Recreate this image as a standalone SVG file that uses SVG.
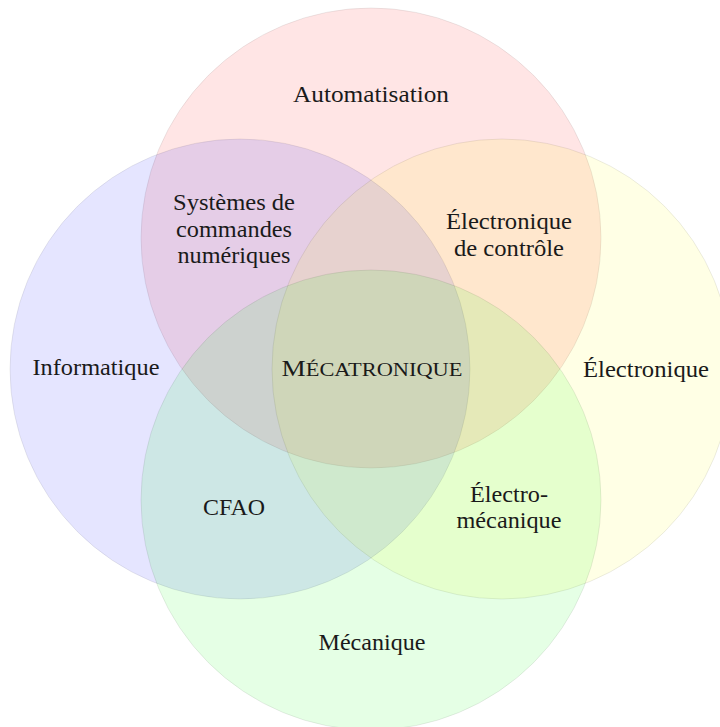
<svg xmlns="http://www.w3.org/2000/svg" width="720" height="727" viewBox="0 0 720 727">
<style>
.c{fill-opacity:0.1;stroke:#000;stroke-opacity:0.08;stroke-width:1}
text{font-family:"Liberation Serif","DejaVu Serif",serif;font-size:22.5px;fill:#1a1a1a;text-anchor:middle}
.sc{font-size:18.5px}
</style>
<rect width="720" height="727" fill="#fff"/>
<g id="automatisation-circle"><circle class="c" cx="371" cy="238" r="230" fill="#ff0000"/></g>
<g id="informatique-circle"><circle class="c" cx="240" cy="369" r="230" fill="#0000ff"/></g>
<g id="electronique-circle"><circle class="c" cx="502" cy="369" r="230" fill="#ffff00"/></g>
<g id="mecanique-circle"><circle class="c" cx="371" cy="500" r="230" fill="#00ff00"/></g>
<g id="labels">
<text x="371" y="102" textLength="156" lengthAdjust="spacingAndGlyphs">Automatisation</text>
<text x="234" y="210" textLength="122" lengthAdjust="spacingAndGlyphs">Systèmes de</text>
<text x="234" y="237" textLength="116" lengthAdjust="spacingAndGlyphs">commandes</text>
<text x="234" y="263" textLength="113" lengthAdjust="spacingAndGlyphs">numériques</text>
<text x="509" y="229" textLength="126" lengthAdjust="spacingAndGlyphs">Électronique</text>
<text x="509" y="256" textLength="110" lengthAdjust="spacingAndGlyphs">de contrôle</text>
<text x="96" y="375" textLength="127" lengthAdjust="spacingAndGlyphs">Informatique</text>
<text x="372" y="376" textLength="181" lengthAdjust="spacingAndGlyphs">M<tspan class="sc">ÉCATRONIQUE</tspan></text>
<text x="646" y="377" textLength="126" lengthAdjust="spacingAndGlyphs">Électronique</text>
<text x="234" y="515" textLength="62" lengthAdjust="spacingAndGlyphs">CFAO</text>
<text x="509" y="502" textLength="78" lengthAdjust="spacingAndGlyphs">Électro-</text>
<text x="509" y="528" textLength="105" lengthAdjust="spacingAndGlyphs">mécanique</text>
<text x="372" y="650" textLength="107" lengthAdjust="spacingAndGlyphs">Mécanique</text>
</g>
</svg>
